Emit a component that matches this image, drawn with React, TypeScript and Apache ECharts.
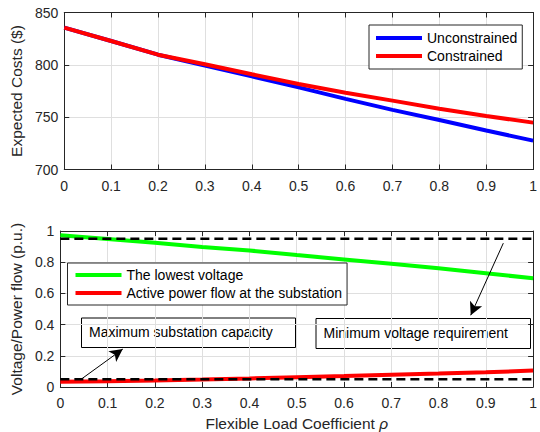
import React, { useEffect, useRef } from 'react';
import * as echarts from 'echarts';

// Flexible load coefficient (x axis of both panels)
const rho = [0, 0.1, 0.2, 0.3, 0.4, 0.5, 0.6, 0.7, 0.8, 0.9, 1.0];

// Upper panel: expected operating cost ($)
const unconstrainedCost = [835.5, 822.8, 809.7, 799.2, 789.0, 778.5, 767.5, 757.0, 747.3, 737.3, 727.6];
const constrainedCost = [835.5, 822.8, 809.7, 800.5, 791.0, 781.7, 773.4, 765.8, 758.1, 751.1, 744.8];

// Lower panel: lowest bus voltage and substation active power flow (p.u.)
const lowestVoltage = [0.973, 0.949, 0.924, 0.898, 0.875, 0.846, 0.818, 0.79, 0.761, 0.729, 0.697];
const substationFlow = [0.033, 0.037, 0.042, 0.048, 0.055, 0.063, 0.07, 0.078, 0.086, 0.095, 0.105];

// Operating limits
const minVoltageLimit = 0.95;
const maxCapacityLimit = 0.05;

const FONT = 'Liberation Sans, Arial, Helvetica, sans-serif';
const AXIS = '#262626';
const GRID = '#dfdfdf';

const pairs = (ys: number[]) => rho.map((x, i) => [x, ys[i]]);
const flat = (v: number) => [[0, v], [1, v]];

function mainXAxis(gridIndex: number, extra: any = {}) {
  return {
    gridIndex, type: 'value', min: 0, max: 1, interval: 0.1, position: 'bottom',
    axisLine: { show: true, onZero: false, lineStyle: { color: AXIS, width: 1 } },
    axisTick: { show: true, inside: true, length: 5, lineStyle: { color: AXIS } },
    axisLabel: { color: AXIS, fontSize: 14, margin: 9, fontFamily: FONT },
    splitLine: { show: true, lineStyle: { color: GRID, width: 1 } },
    ...extra,
  };
}
function topXAxis(gridIndex: number) {
  return {
    gridIndex, type: 'value', min: 0, max: 1, interval: 0.1, position: 'top',
    axisLine: { show: true, onZero: false, lineStyle: { color: AXIS, width: 1 } },
    axisTick: { show: true, inside: true, length: 5, lineStyle: { color: AXIS } },
    axisLabel: { show: false }, splitLine: { show: false },
  };
}
function mainYAxis(gridIndex: number, min: number, max: number, interval: number, extra: any = {}) {
  return {
    gridIndex, type: 'value', min, max, interval, position: 'left',
    axisLine: { show: true, onZero: false, lineStyle: { color: AXIS, width: 1 } },
    axisTick: { show: true, inside: true, length: 5, lineStyle: { color: AXIS } },
    axisLabel: { color: AXIS, fontSize: 14, margin: 6, fontFamily: FONT },
    splitLine: { show: true, lineStyle: { color: GRID, width: 1 } },
    ...extra,
  };
}
function rightYAxis(gridIndex: number, min: number, max: number, interval: number) {
  return {
    gridIndex, type: 'value', min, max, interval, position: 'right',
    axisLine: { show: true, onZero: false, lineStyle: { color: AXIS, width: 1 } },
    axisTick: { show: true, inside: true, length: 5, lineStyle: { color: AXIS } },
    axisLabel: { show: false }, splitLine: { show: false },
  };
}

const nameStyle = { color: AXIS, fontSize: 15.5, fontFamily: FONT };

const legendBase = {
  orient: 'vertical', icon: 'rect', itemWidth: 46, itemHeight: 4, itemGap: 4,
  backgroundColor: '#ffffff', borderColor: AXIS, borderWidth: 1, borderRadius: 0,
  selectedMode: false,
  textStyle: { color: '#000', fontSize: 14, fontFamily: FONT },
};

const option: any = {
  animation: false,
  textStyle: { fontFamily: FONT },
  grid: [
    { left: 60, top: 12.5, width: 478, height: 157 },
    { left: 60, top: 231, width: 478, height: 157.5 },
  ],
  xAxis: [
    mainXAxis(0),
    topXAxis(0),
    mainXAxis(1, {
      name: 'Flexible Load Coefficient {i|ρ}',
      nameLocation: 'middle', nameGap: 28,
      nameTextStyle: { ...nameStyle, rich: { i: { ...nameStyle, fontStyle: 'italic' } } },
    }),
    topXAxis(1),
  ],
  yAxis: [
    mainYAxis(0, 700, 850, 50, {
      name: 'Expected Costs ($)', nameLocation: 'middle', nameRotate: 90, nameGap: 35,
      nameTextStyle: nameStyle,
    }),
    rightYAxis(0, 700, 850, 50),
    mainYAxis(1, 0, 1, 0.2, {
      name: 'Voltage/Power flow (p.u.)', nameLocation: 'middle', nameRotate: 90, nameGap: 29,
      nameTextStyle: nameStyle,
    }),
    rightYAxis(1, 0, 1, 0.2),
  ],
  legend: [
    { ...legendBase, data: ['Unconstrained', 'Constrained'], left: 369, top: 25, padding: [6, 5, 6, 7] },
    {
      ...legendBase, data: ['The lowest voltage', 'Active power flow at the substation'],
      left: 67.5, top: 263, padding: [5, 5, 5, 8],
    },
  ],
  series: [
    {
      name: 'Unconstrained', type: 'line', xAxisIndex: 0, yAxisIndex: 0, symbol: 'none',
      data: pairs(unconstrainedCost), lineStyle: { color: '#0000ff', width: 4 }, itemStyle: { color: '#0000ff' },
    },
    {
      name: 'Constrained', type: 'line', xAxisIndex: 0, yAxisIndex: 0, symbol: 'none',
      data: pairs(constrainedCost), lineStyle: { color: '#ff0000', width: 4 }, itemStyle: { color: '#ff0000' },
    },
    {
      name: 'The lowest voltage', type: 'line', xAxisIndex: 2, yAxisIndex: 2, symbol: 'none',
      data: pairs(lowestVoltage), lineStyle: { color: '#00ff00', width: 4 }, itemStyle: { color: '#00ff00' },
    },
    {
      name: 'Active power flow at the substation', type: 'line', xAxisIndex: 2, yAxisIndex: 2, symbol: 'none',
      data: pairs(substationFlow), lineStyle: { color: '#ff0000', width: 4 }, itemStyle: { color: '#ff0000' },
    },
    {
      type: 'line', xAxisIndex: 2, yAxisIndex: 2, symbol: 'none', silent: true,
      data: flat(minVoltageLimit), lineStyle: { color: '#000', width: 2.5, type: [9, 5] },
    },
    {
      type: 'line', xAxisIndex: 2, yAxisIndex: 2, symbol: 'none', silent: true,
      data: flat(maxCapacityLimit), lineStyle: { color: '#000', width: 2.5, type: [9, 5] },
      markLine: {
        silent: true, symbol: ['none', 'arrow'], symbolSize: [10, 13],
        label: { show: false }, emphasis: { disabled: true },
        lineStyle: { color: '#000', width: 1, type: 'solid' },
        data: [
          [{ coord: [0.045, 0.052] }, { coord: [0.132, 0.243] }],
          [{ coord: [0.937, 0.922] }, { coord: [0.868, 0.46] }],
        ],
      },
    },
  ],
  graphic: [
    {
      type: 'rect', x: 81.5, y: 318, shape: { x: 0, y: 0, width: 214, height: 29.5 },
      style: { fill: 'none', stroke: '#000', lineWidth: 1 }, silent: true,
    },
    {
      type: 'text', x: 89, y: 332,
      style: { text: 'Maximum substation capacity', fill: '#000', font: `14px ${FONT}`, verticalAlign: 'middle' },
      silent: true,
    },
    {
      type: 'rect', x: 316, y: 318.5, shape: { x: 0, y: 0, width: 214.5, height: 30 },
      style: { fill: 'none', stroke: '#000', lineWidth: 1 }, silent: true,
    },
    {
      type: 'text', x: 323.5, y: 332.5,
      style: { text: 'Minimum voltage requirement', fill: '#000', font: `14px ${FONT}`, verticalAlign: 'middle' },
      silent: true,
    },
  ],
};

export default function App() {
  const ref = useRef<HTMLDivElement>(null);
  useEffect(() => {
    if (!ref.current) return;
    const chart = echarts.init(ref.current, null, { renderer: 'svg' });
    chart.setOption(option);
    return () => chart.dispose();
  }, []);
  return (
    <div
      ref={ref}
      style={{ position: 'absolute', left: 0, top: 0, width: 540, height: 432, background: '#ffffff' }}
    />
  );
}
